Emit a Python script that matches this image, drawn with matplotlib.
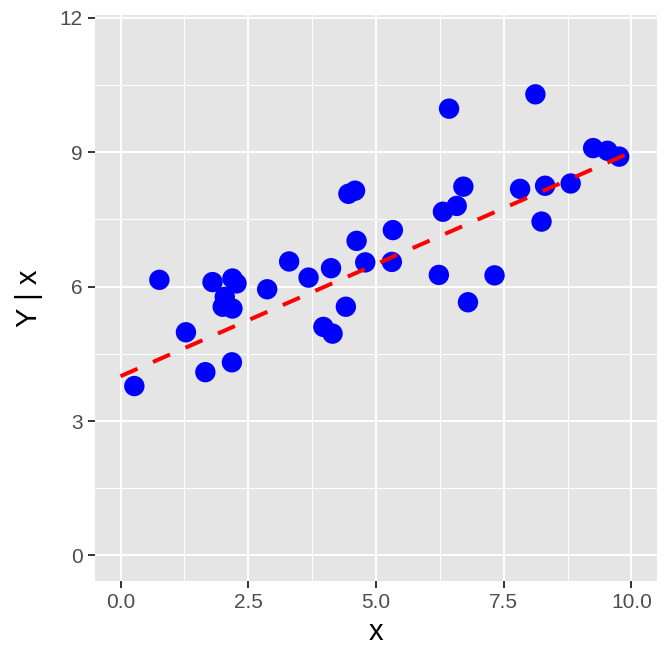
import matplotlib
matplotlib.use("Agg")
import matplotlib.pyplot as plt
import numpy as np

plt.rcParams['font.family'] = ['Liberation Sans', 'DejaVu Sans']

# points
x_vals = [0.27, 0.76, 1.28, 1.66, 1.80, 2.19, 2.27, 2.04, 2.00, 2.19,
          2.18, 2.87, 3.30, 3.68, 4.12, 4.41, 3.97, 4.15, 4.62, 4.79,
          4.46, 4.59, 6.43, 8.12, 9.25, 9.53, 9.76, 6.71, 6.58, 6.31,
          7.82, 8.31, 8.81, 8.24, 5.33, 5.31, 6.23, 7.32, 6.80]
y_vals = [3.78, 6.15, 4.98, 4.09, 6.10, 6.18, 6.07, 5.77, 5.55, 5.51,
          4.31, 5.94, 6.56, 6.20, 6.41, 5.55, 5.10, 4.95, 7.02, 6.54,
          8.07, 8.14, 9.97, 10.29, 9.09, 9.03, 8.90, 8.23, 7.80, 7.67,
          8.18, 8.25, 8.30, 7.45, 7.26, 6.55, 6.26, 6.25, 5.65]

# true line y = 4 + 0.5 x
line_x = [0, 10]
intercept, slope = 4.0, 0.5

x_ticks = [0.0, 2.5, 5.0, 7.5, 10.0]
x_ticklabels = ["0.0", "2.5", "5.0", "7.5", "10.0"]
y_ticks = [0, 3, 6, 9, 12]

fig = plt.figure(figsize=(6.72, 6.72), dpi=100)
ax = fig.add_axes([95 / 672, 91 / 672, 562 / 672, 566 / 672])
ax.set_facecolor("#E5E5E5")
for s in ax.spines.values():
    s.set_visible(False)

ax.set_xlim(-0.5, 10.5)
ax.set_ylim(-0.57, 12.06)
ax.set_xticks(x_ticks)
ax.set_xticklabels(x_ticklabels)
ax.set_yticks(y_ticks)
ax.set_xticks([1.25, 3.75, 6.25, 8.75], minor=True)
ax.set_yticks([1.5, 4.5, 7.5, 10.5], minor=True)
ax.grid(which="major", color="white", linewidth=1.4)
ax.grid(which="minor", color="white", linewidth=0.7)
ax.set_axisbelow(True)
ax.tick_params(which="major", length=5, width=1.4, color="#333333",
               labelsize=15, labelcolor="#4D4D4D", pad=4)
ax.tick_params(which="minor", length=0)

ax.scatter(x_vals, y_vals, s=215, color="blue", edgecolors="none", zorder=3)
lx = np.array(line_x)
ax.plot(lx, intercept + slope * lx, color="red", linewidth=2.9,
        linestyle=(0, (4.6, 4.2)), zorder=4)

ax.set_xlabel("x", fontsize=21, labelpad=4)
ax.set_ylabel("Y | x", fontsize=21, labelpad=12)

fig.savefig("out.png", dpi=100)
